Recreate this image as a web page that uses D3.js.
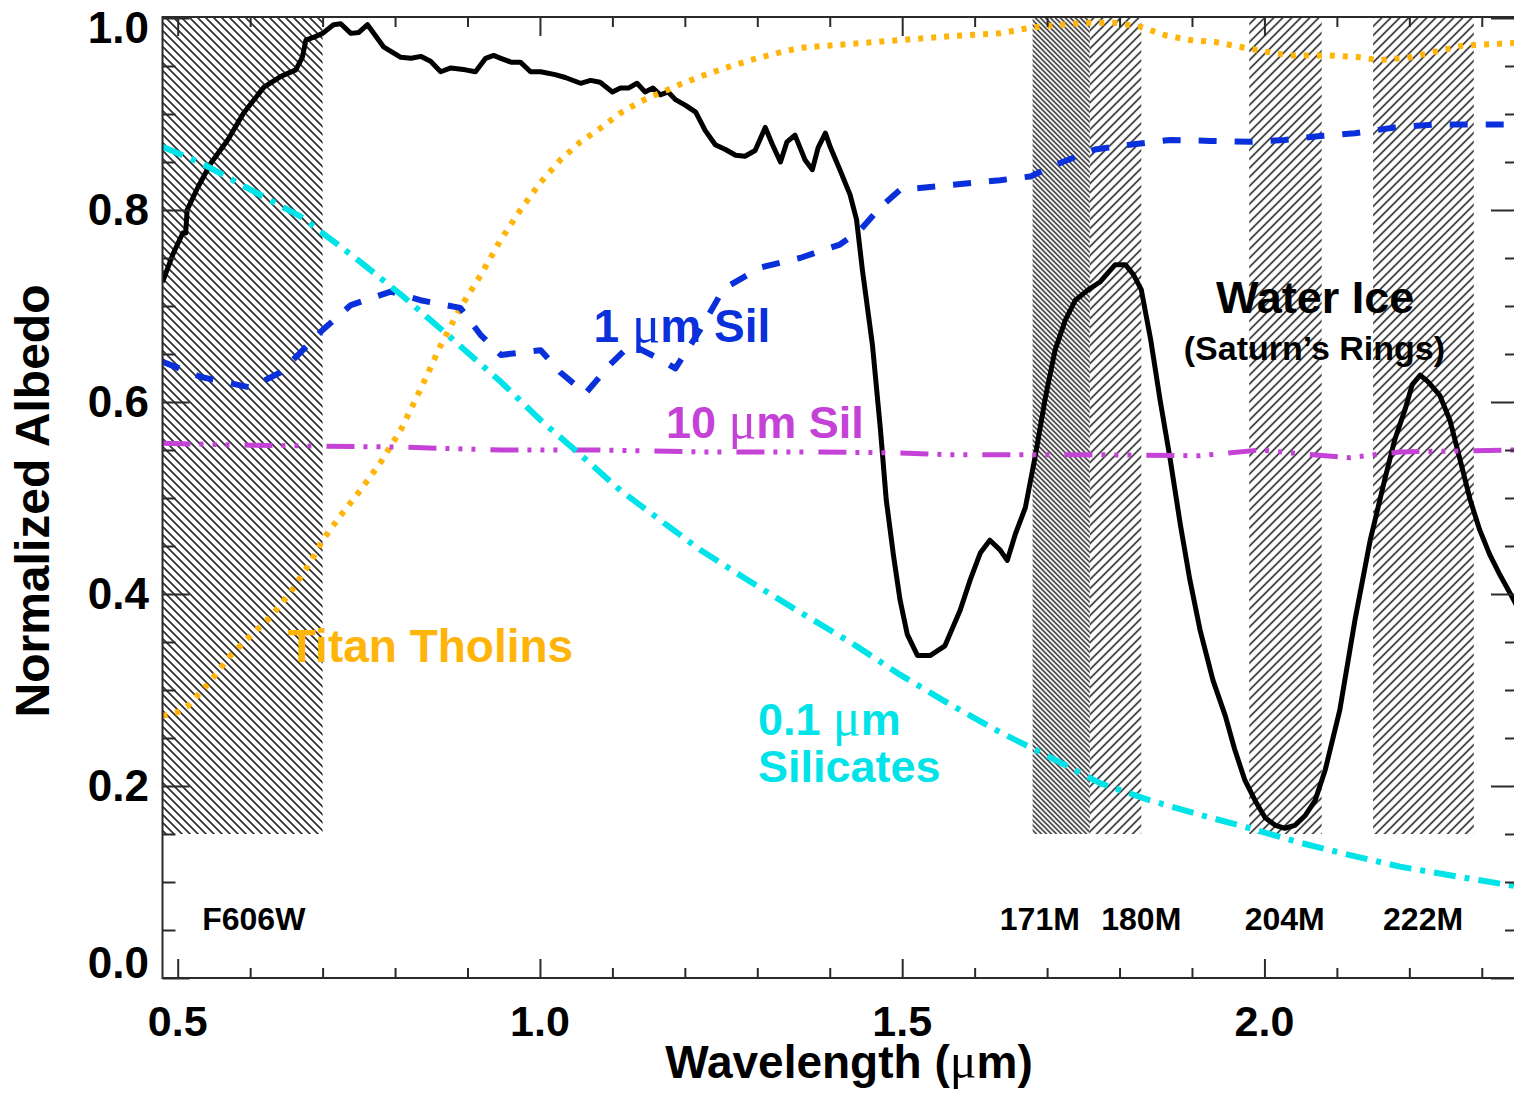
<!DOCTYPE html>
<html>
<head>
<meta charset="utf-8">
<script src="https://cdn.jsdelivr.net/npm/d3@7"></script>
<style>
  html, body { margin: 0; padding: 0; background: #fff; }
  svg { display: block; }
  text { font-family: "Liberation Sans", Arial, Helvetica, sans-serif; font-weight: bold; }
  .mu { font-family: "Liberation Serif", "DejaVu Serif", serif; font-weight: normal; }
</style>
</head>
<body>
<svg id="chart" width="1514" height="1097"></svg>
<script>
// Water ice (Saturn's rings) reflectance, normalized
const waterIceWavelength = [0.479,0.494,0.507,0.511,0.513,0.528,0.546,0.569,0.591,0.619,0.642,0.663,0.672,0.677,0.688,0.700,0.715,0.725,0.739,0.750,0.762,0.784,0.808,
  0.822,0.836,0.849,0.863,0.877,0.897,0.911,0.925,0.936,0.946,0.960,0.973,0.987,1.001,1.021,1.035,1.056,1.070,1.083,1.100,1.111,1.122,1.134,1.145,1.156,1.166,1.177,1.187,
  1.201,1.215,1.228,1.242,1.256,1.270,1.283,1.297,1.311,1.321,1.332,1.341,1.352,1.366,1.376,1.384,1.394,1.401,1.414,1.428,1.437,1.445,1.459,1.470,1.478,1.488,1.497,1.507,
  1.521,1.539,1.559,1.580,1.594,1.608,1.621,1.635,1.645,1.656,1.670,1.684,1.697,1.711,1.725,1.739,1.757,1.773,1.794,1.808,1.819,1.830,1.843,1.856,1.870,1.884,1.897,1.911,
  1.929,1.946,1.959,1.973,1.987,2.001,2.015,2.028,2.042,2.056,2.070,2.084,2.104,2.125,2.146,2.166,2.180,2.194,2.204,2.215,2.226,2.242,2.256,2.270,2.284,2.297,2.311,2.325,2.344,2.350];
const waterIceAlbedo = [0.725,0.755,0.776,0.776,0.800,0.824,0.849,0.873,0.901,0.928,0.939,0.946,0.959,0.977,0.980,0.984,0.993,0.994,0.984,0.985,0.993,0.970,0.959,
  0.958,0.960,0.955,0.944,0.948,0.946,0.944,0.958,0.961,0.958,0.954,0.954,0.944,0.944,0.941,0.938,0.932,0.935,0.933,0.923,0.927,0.927,0.932,0.923,0.927,0.920,0.923,0.915,
  0.909,0.902,0.883,0.868,0.863,0.857,0.856,0.862,0.886,0.868,0.850,0.871,0.878,0.852,0.842,0.865,0.880,0.865,0.842,0.816,0.790,0.738,0.659,0.571,0.498,0.440,0.394,0.358,
  0.336,0.336,0.346,0.383,0.415,0.443,0.456,0.446,0.435,0.462,0.490,0.545,0.602,0.654,0.685,0.706,0.717,0.725,0.743,0.743,0.733,0.717,0.665,0.602,0.540,0.472,0.415,0.363,
  0.310,0.273,0.238,0.206,0.185,0.167,0.159,0.156,0.159,0.169,0.185,0.217,0.279,0.373,0.456,0.519,0.561,0.592,0.618,0.628,0.621,0.607,0.581,0.540,0.498,0.467,0.441,0.420,0.394,0.385];

// Titan tholins
const tholinWavelength = [0.479,0.500,0.515,0.546,0.573,0.601,0.628,0.656,0.683,0.700,0.725,0.752,0.780,0.808,0.835,0.863,0.890,0.918,0.946,0.973,1.001,1.028,1.056,1.083,
  1.111,1.139,1.166,1.194,1.221,1.256,1.290,1.325,1.359,1.428,1.497,1.566,1.635,1.677,1.718,1.759,1.794,1.828,1.863,1.897,1.932,1.966,2.001,2.035,2.090,2.132,2.159,2.201,2.242,2.273,2.344,2.350];
const tholinAlbedo = [0.273,0.277,0.284,0.310,0.336,0.357,0.376,0.402,0.433,0.456,0.482,0.508,0.537,0.571,0.613,0.659,0.698,0.732,0.769,0.800,0.829,0.852,0.871,0.885,
  0.901,0.913,0.922,0.931,0.939,0.948,0.956,0.963,0.969,0.973,0.977,0.981,0.984,0.990,0.993,0.995,0.995,0.991,0.982,0.977,0.975,0.970,0.965,0.961,0.961,0.959,0.956,0.959,0.966,0.971,0.974,0.974];

// 0.1 micron silicates
const sil01Wavelength = [0.479,0.532,0.601,0.670,0.700,0.752,0.808,0.877,0.946,1.001,1.056,1.111,1.166,1.221,1.290,1.359,1.428,1.497,1.566,1.635,1.704,1.773,1.842,1.911,1.980,2.049,2.118,2.187,2.256,2.344,2.350];
const sil01Albedo = [0.866,0.849,0.821,0.793,0.776,0.746,0.712,0.667,0.621,0.581,0.545,0.508,0.477,0.446,0.413,0.381,0.350,0.316,0.285,0.256,0.230,0.203,0.185,0.170,0.156,0.141,0.128,0.116,0.107,0.096,0.095];

// 1 micron silicates
const sil1Wavelength = [0.479,0.532,0.601,0.642,0.670,0.700,0.739,0.794,0.835,0.890,0.918,0.946,1.001,1.028,1.063,1.097,1.125,1.162,1.187,1.221,1.249,1.263,1.304,1.359,
  1.414,1.442,1.470,1.497,1.566,1.635,1.677,1.718,1.766,1.814,1.870,1.925,1.980,2.028,2.077,2.125,2.180,2.235,2.344,2.350];
const sil1Albedo = [0.642,0.626,0.615,0.631,0.652,0.675,0.701,0.715,0.706,0.698,0.670,0.649,0.654,0.631,0.609,0.639,0.660,0.646,0.635,0.675,0.712,0.722,0.740,0.750,
  0.764,0.779,0.803,0.821,0.826,0.831,0.835,0.849,0.863,0.868,0.873,0.872,0.871,0.873,0.877,0.880,0.886,0.889,0.889,0.889];

// 10 micron silicates
const sil10Wavelength = [0.479,0.601,0.700,0.808,0.946,1.083,1.221,1.359,1.497,1.566,1.635,1.773,1.911,1.994,2.049,2.118,2.187,2.344,2.350];
const sil10Albedo = [0.557,0.555,0.554,0.553,0.550,0.550,0.548,0.548,0.547,0.545,0.545,0.545,0.544,0.550,0.546,0.542,0.548,0.550,0.550];

// Filter bandpasses (microns)
const filterNames = ["F606W", "171M", "180M", "204M", "222M"];
const filterStart = [0.479, 1.680, 1.759, 1.979, 2.150];
const filterEnd   = [0.700, 1.759, 1.830, 2.079, 2.289];
const filterLabelAt = [0.605, 1.690, 1.830, 2.028, 2.219];
const filterHatch = ["hatchBack", "hatchBackDense", "hatchFwd", "hatchFwd", "hatchFwd"];
const filterFloor = 0.15;

// Axis ticks
const xMajorTicks = [0.5, 1.0, 1.5, 2.0];
const xMinorTicks = [0.6, 0.7, 0.8, 0.9, 1.1, 1.2, 1.3, 1.4, 1.6, 1.7, 1.8, 1.9, 2.1, 2.2, 2.3];
const xTickLabels = ["0.5", "1.0", "1.5", "2.0"];
const yMajorTicks = [0.0, 0.2, 0.4, 0.6, 0.8, 1.0];
const yMinorTicks = [0.05,0.1,0.15,0.25,0.3,0.35,0.45,0.5,0.55,0.65,0.7,0.75,0.85,0.9,0.95];
const yTickLabels = ["0.0", "0.2", "0.4", "0.6", "0.8", "1.0"];

const svg = d3.select("#chart");
const plotLeft = 162.5, plotRight = 1518, plotTop = 18, plotBottom = 978;

const x = d3.scaleLinear().domain([0.479, 2.35]).range([plotLeft, plotRight]);
const y = d3.scaleLinear().domain([0, 1]).range([plotBottom, plotTop]);

const defs = svg.append("defs");
function hatch(id, spacing, angle, width) {
  const s = spacing / Math.SQRT2;
  const p = defs.append("pattern")
    .attr("id", id)
    .attr("patternUnits", "userSpaceOnUse")
    .attr("width", s).attr("height", 20)
    .attr("patternTransform", `rotate(${angle})`);
  p.append("line")
    .attr("x1", s / 2).attr("y1", -1).attr("x2", s / 2).attr("y2", 21)
    .attr("stroke", "#000").attr("stroke-width", width);
}
hatch("hatchBack", 8, -45, 1.5);
hatch("hatchBackDense", 5, -45, 1.2);
hatch("hatchFwd", 9, 45, 1.4);

defs.append("clipPath").attr("id", "plotClip")
  .append("rect").attr("x", plotLeft).attr("y", plotTop - 1)
  .attr("width", plotRight - plotLeft).attr("height", plotBottom - plotTop + 1);

// Filter bands
svg.append("g").selectAll("rect")
  .data(filterNames.map((n, i) => ({ n, a: filterStart[i], b: filterEnd[i], h: filterHatch[i] })))
  .join("rect")
  .attr("x", d => x(d.a))
  .attr("width", d => x(d.b) - x(d.a))
  .attr("y", y(1) - 1)
  .attr("height", d => y(filterFloor) - y(1) + 1)
  .attr("fill", d => `url(#${d.h})`);

// Spectra
const line = d3.line().x(d => x(d[0])).y(d => y(d[1]));
const curves = svg.append("g").attr("clip-path", "url(#plotClip)");

const series = [
  { w: waterIceWavelength, a: waterIceAlbedo, color: "#000", width: 5, dash: null },
  { w: tholinWavelength, a: tholinAlbedo, color: "#FFB40A", width: 6, dash: "5,8" },
  { w: sil1Wavelength, a: sil1Albedo, color: "#0A30DC", width: 6, dash: "18,18" },
  { w: sil10Wavelength, a: sil10Albedo, color: "#C443D6", width: 5, dash: "28,9,4,9,4,9,4,15" },
  { w: sil01Wavelength, a: sil01Albedo, color: "#00E3E8", width: 6, dash: "22,9,5,9" }
];
series.forEach(s => {
  curves.append("path")
    .datum(d3.zip(s.w, s.a))
    .attr("d", line)
    .attr("fill", "none")
    .attr("stroke", s.color)
    .attr("stroke-width", s.width)
    .attr("stroke-linejoin", "round")
    .attr("stroke-dasharray", s.dash);
});

// Frame and ticks
const axisColor = "#2a2a2a";
function styleAxis(g) {
  g.select(".domain").remove();
  g.selectAll("line").attr("stroke", axisColor).attr("stroke-width", 2);
  g.selectAll("text").remove();
}
svg.append("g").attr("transform", `translate(0,${plotBottom})`)
  .call(d3.axisBottom(x).tickValues(xMajorTicks).tickSize(-19)).call(styleAxis);
svg.append("g").attr("transform", `translate(0,${plotBottom})`)
  .call(d3.axisBottom(x).tickValues(xMinorTicks).tickSize(-10)).call(styleAxis);
svg.append("g").attr("transform", `translate(0,${plotTop - 1})`)
  .call(d3.axisTop(x).tickValues(xMajorTicks).tickSize(-19)).call(styleAxis);
svg.append("g").attr("transform", `translate(0,${plotTop - 1})`)
  .call(d3.axisTop(x).tickValues(xMinorTicks).tickSize(-10)).call(styleAxis);
svg.append("g").attr("transform", `translate(${plotLeft},0)`)
  .call(d3.axisLeft(y).tickValues(yMajorTicks).tickSize(-27)).call(styleAxis);
svg.append("g").attr("transform", `translate(${plotLeft},0)`)
  .call(d3.axisLeft(y).tickValues(yMinorTicks).tickSize(-13)).call(styleAxis);
svg.append("g").attr("transform", `translate(${plotRight},0)`)
  .call(d3.axisRight(y).tickValues(yMajorTicks).tickSize(-27)).call(styleAxis);
svg.append("g").attr("transform", `translate(${plotRight},0)`)
  .call(d3.axisRight(y).tickValues(yMinorTicks).tickSize(-13)).call(styleAxis);

svg.append("rect")
  .attr("x", plotLeft).attr("y", plotTop - 1)
  .attr("width", plotRight - plotLeft).attr("height", plotBottom - plotTop + 1)
  .attr("fill", "none").attr("stroke", axisColor).attr("stroke-width", 2);

// Tick labels
svg.append("g").selectAll("text")
  .data(xMajorTicks)
  .join("text")
  .attr("x", d => x(d))
  .attr("y", plotBottom + 58)
  .attr("text-anchor", "middle")
  .attr("font-size", 43)
  .text((d, i) => xTickLabels[i]);

svg.append("g").selectAll("text")
  .data(yMajorTicks)
  .join("text")
  .attr("x", 149)
  .attr("y", d => d === 0 ? y(d) : d === 1 ? y(d) + 25 : y(d) + 15)
  .attr("text-anchor", "end")
  .attr("font-size", 44)
  .text((d, i) => yTickLabels[i]);

// Axis titles
const xTitle = svg.append("text")
  .attr("x", 849).attr("y", 1078)
  .attr("text-anchor", "middle")
  .attr("font-size", 46);
xTitle.append("tspan").text("Wavelength (");
xTitle.append("tspan").attr("class", "mu").attr("font-size", 50).text("μ");
xTitle.append("tspan").text("m)");

svg.append("text")
  .attr("transform", "translate(49,501) rotate(-90)")
  .attr("text-anchor", "middle")
  .attr("font-size", 48)
  .text("Normalized Albedo");

// Filter names
svg.append("g").selectAll("text")
  .data(filterNames)
  .join("text")
  .attr("x", (d, i) => x(filterLabelAt[i]))
  .attr("y", 930)
  .attr("text-anchor", "middle")
  .attr("font-size", 32)
  .text(d => d);

// Curve annotations
function label(parts, lx, ly, color, size, anchor) {
  const t = svg.append("text")
    .attr("x", x(lx)).attr("y", y(ly))
    .attr("fill", color)
    .attr("font-size", size)
    .attr("text-anchor", anchor || "start");
  parts.forEach(p => {
    const s = t.append("tspan").text(p.t);
    if (p.mu) s.attr("class", "mu").attr("font-size", size * 1.15);
  });
}
label([{ t: "1 " }, { t: "μ", mu: true }, { t: "m Sil" }], 1.074, 0.6625, "#0A30DC", 46);
label([{ t: "10 " }, { t: "μ", mu: true }, { t: "m Sil" }], 1.174, 0.5625, "#C443D6", 45);
label([{ t: "Water Ice" }], 2.070, 0.693, "#000", 45, "middle");
label([{ t: "(Saturn’s Rings)" }], 2.069, 0.644, "#000", 34, "middle");
label([{ t: "Titan Tholins" }], 0.652, 0.329, "#FFB40A", 46);
label([{ t: "0.1 " }, { t: "μ", mu: true }, { t: "m" }], 1.301, 0.253, "#00E3E8", 45);
label([{ t: "Silicates" }], 1.301, 0.204, "#00E3E8", 45);
</script>
</body>
</html>
